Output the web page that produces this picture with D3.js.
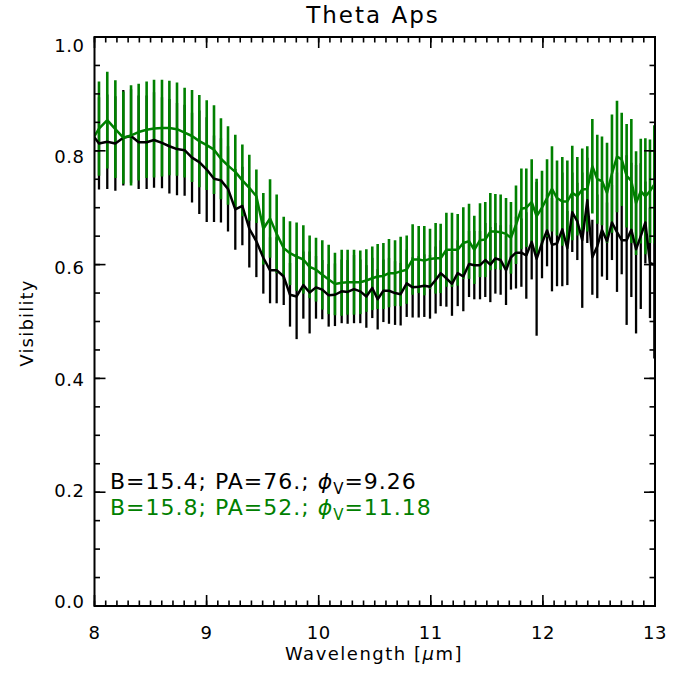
<!DOCTYPE html>
<html>
<head>
<meta charset="utf-8">
<script src="https://cdn.jsdelivr.net/npm/d3@7"></script>
<style>
  body { margin: 0; background: #fff; }
  svg text { font-family: "DejaVu Sans", sans-serif; }
</style>
</head>
<body>
<div id="chart"><svg width="688" height="677"></svg></div>
<script>
// wavelength of every spectral channel (um)
const wavelength = [7.975, 8.040, 8.114, 8.186, 8.257, 8.326, 8.394, 8.465, 8.531, 8.602, 8.668,
  8.736, 8.804, 8.870, 8.935, 9.001, 9.066, 9.128, 9.191, 9.256, 9.319,
  9.381, 9.444, 9.506, 9.566, 9.625, 9.688, 9.744, 9.803, 9.863, 9.919,
  9.976, 10.032, 10.089, 10.145, 10.205, 10.258, 10.315, 10.371, 10.425, 10.478,
  10.526, 10.577, 10.627, 10.681, 10.731, 10.785, 10.838, 10.892, 10.942, 10.993,
  11.043, 11.088, 11.139, 11.189, 11.240, 11.290, 11.341, 11.388, 11.439, 11.486,
  11.531, 11.576, 11.623, 11.671, 11.715, 11.760, 11.808, 11.852, 11.900, 11.944,
  11.992, 12.037, 12.081, 12.126, 12.173, 12.218, 12.262, 12.307, 12.351, 12.396,
  12.441, 12.485, 12.527, 12.572, 12.616, 12.661, 12.703, 12.747, 12.789, 12.831,
  12.873, 12.914, 12.955, 12.994];

// B=15.4, PA=76 (black)
const visBlack = [0.830, 0.813, 0.816, 0.813, 0.823, 0.826, 0.815, 0.815, 0.819, 0.814, 0.808,
  0.803, 0.801, 0.788, 0.780, 0.767, 0.751, 0.748, 0.733, 0.697, 0.703,
  0.663, 0.641, 0.612, 0.590, 0.590, 0.579, 0.547, 0.544, 0.564, 0.551,
  0.560, 0.556, 0.546, 0.547, 0.553, 0.552, 0.557, 0.553, 0.544, 0.559,
  0.539, 0.554, 0.554, 0.550, 0.548, 0.567, 0.560, 0.561, 0.563, 0.561,
  0.573, 0.585, 0.576, 0.566, 0.585, 0.579, 0.601, 0.599, 0.599, 0.608,
  0.600, 0.611, 0.608, 0.590, 0.613, 0.621, 0.621, 0.616, 0.640, 0.610,
  0.638, 0.660, 0.635, 0.637, 0.662, 0.629, 0.692, 0.676, 0.643, 0.713,
  0.613, 0.632, 0.661, 0.641, 0.674, 0.657, 0.643, 0.643, 0.661, 0.627,
  0.650, 0.674, 0.603, 0.600];
const errBlack = [0.080, 0.081, 0.083, 0.083, 0.084, 0.082, 0.082, 0.082, 0.084, 0.080, 0.083,
  0.081, 0.080, 0.079, 0.091, 0.092, 0.076, 0.074, 0.075, 0.071, 0.069,
  0.068, 0.063, 0.063, 0.058, 0.058, 0.050, 0.056, 0.075, 0.059, 0.072,
  0.055, 0.052, 0.055, 0.055, 0.056, 0.056, 0.060, 0.056, 0.055, 0.053,
  0.053, 0.055, 0.058, 0.056, 0.055, 0.059, 0.053, 0.054, 0.055, 0.056,
  0.059, 0.058, 0.050, 0.056, 0.058, 0.061, 0.058, 0.060, 0.060, 0.065,
  0.066, 0.062, 0.061, 0.061, 0.057, 0.063, 0.060, 0.076, 0.066, 0.135,
  0.062, 0.063, 0.082, 0.075, 0.100, 0.065, 0.070, 0.068, 0.119, 0.075,
  0.066, 0.091, 0.082, 0.068, 0.066, 0.105, 0.060, 0.149, 0.118, 0.148,
  0.128, 0.072, 0.097, 0.165];

// B=15.8, PA=52 (green)
const visGreen = [0.818, 0.839, 0.854, 0.838, 0.823, 0.827, 0.833, 0.837, 0.839, 0.840, 0.840,
  0.838, 0.832, 0.826, 0.817, 0.810, 0.802, 0.786, 0.774, 0.763, 0.748,
  0.735, 0.720, 0.663, 0.681, 0.654, 0.629, 0.620, 0.614, 0.609, 0.596,
  0.591, 0.582, 0.574, 0.566, 0.568, 0.569, 0.569, 0.569, 0.572, 0.576,
  0.579, 0.580, 0.585, 0.585, 0.588, 0.591, 0.609, 0.609, 0.607, 0.610,
  0.611, 0.611, 0.626, 0.626, 0.626, 0.638, 0.641, 0.626, 0.643, 0.644,
  0.658, 0.658, 0.657, 0.654, 0.647, 0.670, 0.698, 0.700, 0.710, 0.685,
  0.700, 0.717, 0.733, 0.717, 0.711, 0.711, 0.726, 0.720, 0.732, 0.733,
  0.773, 0.750, 0.747, 0.726, 0.760, 0.790, 0.785, 0.756, 0.747, 0.708,
  0.729, 0.720, 0.729, 0.741];
const errGreen = [0.083, 0.083, 0.085, 0.086, 0.081, 0.088, 0.085, 0.085, 0.086, 0.085, 0.083,
  0.082, 0.079, 0.081, 0.081, 0.079, 0.078, 0.071, 0.069, 0.065, 0.063,
  0.058, 0.047, 0.063, 0.069, 0.069, 0.055, 0.056, 0.060, 0.060, 0.055,
  0.056, 0.061, 0.061, 0.055, 0.058, 0.057, 0.057, 0.056, 0.055, 0.056,
  0.057, 0.058, 0.060, 0.058, 0.061, 0.060, 0.062, 0.059, 0.061, 0.053,
  0.062, 0.061, 0.065, 0.065, 0.063, 0.063, 0.066, 0.060, 0.065, 0.066,
  0.068, 0.066, 0.066, 0.063, 0.063, 0.069, 0.071, 0.069, 0.075, 0.066,
  0.065, 0.068, 0.075, 0.066, 0.078, 0.072, 0.083, 0.069, 0.072, 0.075,
  0.083, 0.078, 0.078, 0.088, 0.104, 0.098, 0.082, 0.091, 0.109, 0.091,
  0.092, 0.102, 0.091, 0.104];

const xTicks = [8, 9, 10, 11, 12, 13];
const yTicks = [0.0, 0.2, 0.4, 0.6, 0.8, 1.0];
const green = "#008000";

const svg = d3.select("#chart svg");
const plotLeft = 94.5, plotRight = 655, plotTop = 37, plotBottom = 606;

const x = d3.scaleLinear().domain([8, 13]).range([plotLeft, plotRight]);
const y = d3.scaleLinear().domain([0, 1]).range([plotBottom, plotTop]);
// IDL ставить підписи осі y трохи щільніше за засічки
const yLabel = d3.scaleLinear().domain([0, 1]).range([608, 52]);

svg.append("defs").append("clipPath").attr("id", "plotclip")
  .append("rect")
  .attr("x", plotLeft).attr("y", plotTop)
  .attr("width", plotRight - plotLeft).attr("height", plotBottom - plotTop);

const plot = svg.append("g").attr("clip-path", "url(#plotclip)");

function drawBars(vals, errs, color, width) {
  plot.append("g").selectAll("line")
    .data(wavelength)
    .join("line")
    .attr("x1", (d) => x(d))
    .attr("x2", (d) => x(d))
    .attr("y1", (d, i) => y(vals[i] - errs[i]))
    .attr("y2", (d, i) => y(vals[i] + errs[i]))
    .attr("stroke", color)
    .attr("stroke-width", width);
}

function drawLine(vals, color) {
  const line = d3.line()
    .x((d) => x(d))
    .y((d, i) => y(vals[i]));
  plot.append("path")
    .attr("d", line(wavelength))
    .attr("fill", "none")
    .attr("stroke", color)
    .attr("stroke-width", 2.5)
    .attr("stroke-linejoin", "round");
}

drawBars(visBlack, errBlack, "#000", 2.3);
drawBars(visGreen, errGreen, green, 2.6);
drawLine(visBlack, "#000");
drawLine(visGreen, green);

// рамка з засічками всередину
const axisG = svg.append("g");
const xMinor = d3.range(80, 131).map((d) => d / 10);
const yMinor = d3.range(0, 21).map((d) => d / 20);

function tickLines(vals, len, isX) {
  vals.forEach((v) => {
    if (isX) {
      axisG.append("line").attr("x1", x(v)).attr("x2", x(v))
        .attr("y1", plotBottom).attr("y2", plotBottom - len).attr("stroke", "#000").attr("stroke-width", 1.6);
      axisG.append("line").attr("x1", x(v)).attr("x2", x(v))
        .attr("y1", plotTop).attr("y2", plotTop + len).attr("stroke", "#000").attr("stroke-width", 1.6);
    } else {
      axisG.append("line").attr("y1", y(v)).attr("y2", y(v))
        .attr("x1", plotLeft).attr("x2", plotLeft + len).attr("stroke", "#000").attr("stroke-width", 1.6);
      axisG.append("line").attr("y1", y(v)).attr("y2", y(v))
        .attr("x1", plotRight).attr("x2", plotRight - len).attr("stroke", "#000").attr("stroke-width", 1.6);
    }
  });
}
tickLines(xMinor, 5.5, true);
tickLines(xTicks, 11, true);
tickLines(yMinor, 5.5, false);
tickLines(yTicks, 11, false);

axisG.append("rect")
  .attr("x", plotLeft).attr("y", plotTop)
  .attr("width", plotRight - plotLeft).attr("height", plotBottom - plotTop)
  .attr("fill", "none").attr("stroke", "#000").attr("stroke-width", 2);

// підписи засічок
svg.append("g").selectAll("text")
  .data(xTicks)
  .join("text")
  .attr("x", (d) => x(d))
  .attr("y", 639)
  .attr("text-anchor", "middle")
  .attr("font-size", "18px")
  .attr("letter-spacing", "0.5px")
  .text((d) => d);

svg.append("g").selectAll("text")
  .data(yTicks)
  .join("text")
  .attr("x", plotLeft - 10)
  .attr("y", (d) => yLabel(d))
  .attr("text-anchor", "end")
  .attr("font-size", "18px")
  .attr("letter-spacing", "0.5px")
  .text((d) => d.toFixed(1));

// заголовок і осі
svg.append("text")
  .attr("x", 373)
  .attr("y", 23)
  .attr("text-anchor", "middle")
  .attr("font-size", "23px")
  .attr("letter-spacing", "2px")
  .text("Theta Aps");

const xl = svg.append("text")
  .attr("x", 374)
  .attr("y", 660)
  .attr("text-anchor", "middle")
  .attr("font-size", "18px")
  .attr("letter-spacing", "1.5px");
xl.append("tspan").text("Wavelength [");
xl.append("tspan").attr("font-style", "italic").text("\u03bc");
xl.append("tspan").text("m]");

svg.append("text")
  .attr("transform", "translate(33,323) rotate(-90)")
  .attr("text-anchor", "middle")
  .attr("font-size", "18px")
  .attr("letter-spacing", "1.2px")
  .text("Visibility");

// легенда з базами
const legend = [
  { color: "#000", pre: "B=15.4; PA=76.; ", phi: "9.26" },
  { color: green, pre: "B=15.8; PA=52.; ", phi: "11.18" }
];
legend.forEach((d, i) => {
  const t = svg.append("text")
    .attr("x", 110)
    .attr("y", 489 + i * 26)
    .attr("font-size", "22px")
    .attr("letter-spacing", "1px")
    .attr("fill", d.color);
  t.append("tspan").text(d.pre);
  t.append("tspan").attr("font-style", "italic").text("\u03d5");
  t.append("tspan").attr("font-size", "15px").attr("dy", 5).text("V");
  t.append("tspan").attr("dy", -5).text("=" + d.phi);
});
</script>
</body>
</html>
